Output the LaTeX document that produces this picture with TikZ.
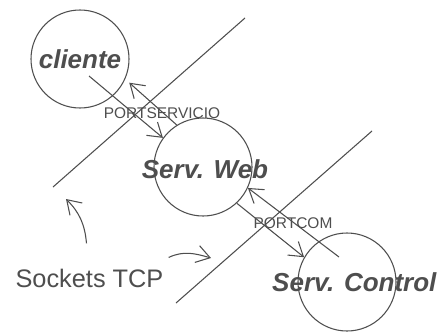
\documentclass[tikz,border=0pt]{standalone}
\usepackage{fontspec}
\setmainfont{Liberation Sans}
\usetikzlibrary{arrows.meta}
\definecolor{ink}{RGB}{78,78,78}

\begin{document}
\begin{tikzpicture}[x=0.75pt, y=0.75pt,
        proc/.style={draw=ink, line width=0.8pt, circle, minimum size=73.5pt, inner sep=0pt},
        pname/.style={text=ink, inner sep=0pt, font=\fontsize{19.5}{20}\selectfont\bfseries\itshape},
        port/.style={text=ink, inner sep=0pt, font=\fontsize{11.6}{12}\selectfont},
        arr/.style={draw=ink, line width=0.8pt, -{Straight Barb[length=10pt,width=13pt]}},
        sock/.style={draw=ink, line width=0.8pt}]
        \useasboundingbox (0,0) rectangle (442,-332);
        % Draw the processes
        \node[proc, label={[pname]center:cliente}] (cli) at (80,-59) {};
        \node[proc, label={[pname, xshift=1.5pt, yshift=-1.5pt]center:Serv. Web}] (web) at (203,-167) {};
        \node[proc, label={[pname, xshift=5.5pt]center:Serv. Control}] (ctl) at (347,-282) {};
        % Draw the socket lines
        \draw[sock] (245,-18) -- (53,-187);
        \draw[sock] (372,-131) -- (176,-303);
        % Draw the messages
        \draw[arr] ([shift={(9,-17)}]cli.center) -- (web.144);
        \draw[arr, shorten >=4pt] (web.122) -- (cli.-24);
        \draw[arr] (web.-47) -- (ctl.150);
        \draw[arr] ([shift={(-8,25)}]ctl.center) -- (web.-25);
        % Label the ports
        \node[port] (ps) at (162,-113) {PORTSERVICIO};
        \node[port] (pc) at (293,-223) {PORTCOM};
        % Label the sockets
        \node[text=ink, inner sep=0pt, font=\fontsize{19}{20}\selectfont] (tcp) at (89.5,-278) {Sockets TCP};
        \draw[arr] (tcp.north) ++(-3,25) to[out=95, in=-45] (66,-199);
        \draw[arr] (tcp.north east) ++(5,11) to[out=25, in=164] (211,-258);
    \end{tikzpicture}
\end{document}
